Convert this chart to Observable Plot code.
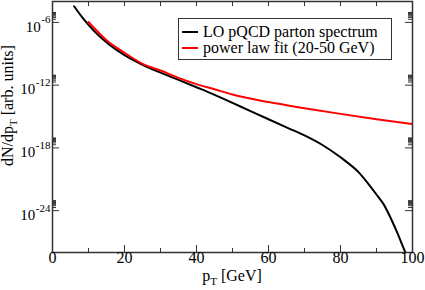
<!DOCTYPE html>
<html><head><meta charset="utf-8">
<script src="https://cdn.jsdelivr.net/npm/d3@7"></script>
<script src="https://cdn.jsdelivr.net/npm/@observablehq/plot@0.6"></script>
<style>body{margin:0;background:#fff}#chart{width:425px;height:290px}</style>
</head><body><div id="chart"></div>
<script>
// ---- data ----
const loX = [6, 8, 10, 12, 14, 16, 18, 20, 23, 26, 30, 35, 40, 45, 50, 55, 60, 65, 70, 75, 80, 85, 88, 90, 92, 94, 96, 97, 98.3, 99];
const loY = [3.5e-5, 4.0e-6, 5.8e-7, 1.05e-7, 2.4e-8, 6.6e-9, 2.1e-9, 7.6e-10, 2.0e-10, 6.0e-11, 1.6e-11, 3.2e-12, 6.3e-13, 1.2e-13, 2.0e-14, 3.3e-15, 5.5e-16, 9.3e-17, 1.6e-17, 1.9e-18, 1.26e-19, 4.8e-21, 2.8e-22, 3.5e-23, 4.0e-24, 1.8e-25, 5.0e-27, 7.1e-28, 5.6e-29, 1.0e-29];
const fitX = [10, 15, 20, 25, 30, 35, 40, 45, 50, 60, 70, 80, 90, 100];
const fitY = [1.1e-6, 2.0e-8, 1.25e-9, 1.1e-10, 2.5e-11, 5.0e-12, 1.26e-12, 4.0e-13, 1.26e-13, 2.4e-14, 6.3e-15, 1.8e-15, 5.6e-16, 1.9e-16];
const seriesNames = ["LO pQCD parton spectrum", "power law fit (20-50 GeV)"];
const seriesColors = ["#000000", "#ff0000"];
const xTicks = [0, 20, 40, 60, 80, 100];
const xMinorTicks = [10, 30, 50, 70, 90];
const xTopTicks = [10, 20, 30, 40, 50, 60, 70, 80, 90];
const yTicks = [1e-6, 1e-12, 1e-18, 1e-24];
const yTickBase = "10";
const yTickExponents = ["-6", "-12", "-18", "-24"];
const yMinorMultipliers = [2, 3, 4, 5, 6, 7, 8, 9];
const xTitle = ["p", "T", " [GeV]"];
const yTitle = ["dN/dp", "T", " [arb. units]"];

// ---- layout ----
const W = 425, H = 290, mL = 52, mR = 13, mT = 1, mB = 38;
const fw = W - mL - mR, fh = H - mT - mB;
const serif = "'Liberation Serif', 'Times New Roman', serif";
const axisColor = "#333";

const lo = loX.map((x, i) => ({x, y: loY[i]}));
const fit = fitX.map((x, i) => ({x, y: fitY[i]}));
const yMinor = yTicks.flatMap(t => yMinorMultipliers.map(k => k * t));

const ctx = document.createElement("canvas").getContext("2d");
ctx.font = "11px " + serif;

const yLabelMarks = yTicks.flatMap((t, i) => {
  const w = ctx.measureText(yTickExponents[i]).width;
  return [
    Plot.text([t], {y: d => d, frameAnchor: "left", text: () => yTickBase, textAnchor: "end", dx: -2.5 - w, dy: 4.5, fontSize: 15, fill: "#000"}),
    Plot.text([t], {y: d => d, frameAnchor: "left", text: () => yTickExponents[i], textAnchor: "end", dx: -2, dy: -2.5, fontSize: 11, fill: "#000"})
  ];
});

const plot = Plot.plot({
  width: W, height: H,
  marginLeft: mL, marginRight: mR, marginTop: mT, marginBottom: mB,
  style: {fontFamily: serif, background: "white", overflow: "visible"},
  x: {domain: [0, 100], axis: null},
  y: {type: "log", domain: [1e-28, 1e-4], axis: null},
  marks: [
    Plot.line(lo, {x: "x", y: "y", stroke: seriesColors[0], strokeWidth: 2, curve: "monotone-x", clip: true}),
    Plot.line(fit, {x: "x", y: "y", stroke: seriesColors[1], strokeWidth: 2, curve: "monotone-x", clip: true}),
    Plot.tickX(xTicks, {x: d => d, stroke: axisColor, strokeWidth: 1, insetTop: fh - 7}),
    Plot.tickX(xMinorTicks, {x: d => d, stroke: axisColor, strokeWidth: 1, insetTop: fh - 4}),
    Plot.tickX(xTopTicks, {x: d => d, stroke: axisColor, strokeWidth: 1, insetBottom: fh - 5}),
    Plot.tickY(yTicks, {y: d => d, stroke: axisColor, strokeWidth: 1, insetRight: fw - 7}),
    Plot.tickY(yTicks, {y: d => d, stroke: axisColor, strokeWidth: 1, insetLeft: fw - 7}),
    Plot.tickY(yMinor, {y: d => d, stroke: axisColor, strokeWidth: 1, insetRight: fw - 4}),
    Plot.tickY(yMinor, {y: d => d, stroke: axisColor, strokeWidth: 1, insetLeft: fw - 4}),
    Plot.frame({stroke: axisColor, strokeWidth: 1.5}),
    Plot.text(xTicks, {x: d => d, frameAnchor: "bottom", text: d => String(d), dy: 10, fontSize: 16, fill: "#000"}),
    ...yLabelMarks
  ]
});

const svg = d3.select(plot);
const xs = plot.scale("x");
const ys = plot.scale("y");

// x title
const xt = svg.append("text").attr("x", xs.apply(50)).attr("y", 281)
  .attr("text-anchor", "middle").attr("font-size", 16).attr("font-family", serif).attr("fill", "#000");
xt.append("tspan").text(xTitle[0]);
xt.append("tspan").attr("dy", 4).attr("font-size", 11).text(xTitle[1]);
xt.append("tspan").attr("dy", -4).text(xTitle[2]);

// y title
const yt = svg.append("text").attr("transform", `translate(13,${ys.apply(1e-14)}) rotate(-90)`)
  .attr("text-anchor", "middle").attr("font-size", 16).attr("font-family", serif).attr("fill", "#000");
yt.append("tspan").text(yTitle[0]);
yt.append("tspan").attr("dy", 4).attr("font-size", 11).text(yTitle[1]);
yt.append("tspan").attr("dy", -4).text(yTitle[2]);

// legend
const lg = svg.append("g").attr("font-family", serif).attr("font-size", 16).attr("text-anchor", "start");
lg.append("rect").attr("x", 178.5).attr("y", 18.5).attr("width", 213).attr("height", 41)
  .attr("fill", "white").attr("stroke", axisColor).attr("stroke-width", 1);
seriesNames.forEach((name, i) => {
  const cy = 32 + i * 16;
  lg.append("line").attr("x1", 182).attr("x2", 198).attr("y1", cy).attr("y2", cy)
    .attr("stroke", seriesColors[i]).attr("stroke-width", 2);
  lg.append("text").attr("x", 203).attr("y", cy + 4.5).attr("text-anchor", "start").attr("fill", "#000").text(name);
});

document.getElementById("chart").appendChild(plot);
</script>
</body></html>
